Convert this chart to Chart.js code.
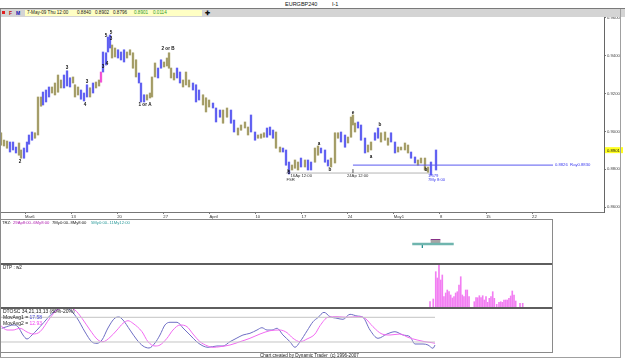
<!DOCTYPE html>
<html><head><meta charset="utf-8">
<script src="https://cdn.jsdelivr.net/npm/chart.js"></script>
<style>
html,body{margin:0;padding:0;background:#fff;}
#wrap{position:relative;width:625px;height:359px;overflow:hidden;font-family:"Liberation Sans",Arial,sans-serif;color:#000;}
.abs{position:absolute;}
canvas{position:absolute;}
.t{position:absolute;white-space:pre;line-height:1;color:#111;}
</style></head><body>
<div id="wrap">
  <canvas id="cMain" width="625" height="203" style="left:0;top:17px;width:625px;height:203px"></canvas>
  <canvas id="cTrz" width="553" height="43" style="left:0;top:220px;width:553px;height:43px"></canvas>
  <canvas id="cDtp" width="553" height="43" style="left:0;top:264px;width:553px;height:43px"></canvas>
  <canvas id="cOsc" width="553" height="44" style="left:0;top:308px;width:553px;height:44px"></canvas>

  <!-- header -->
  <div class="t" style="left:285px;top:2px;font-size:5.5px;color:#111">EURGBP240</div>
  <div class="t" style="left:332px;top:2px;font-size:5.5px;color:#111">I-1</div>
  <div class="abs" style="left:0;top:8px;width:625px;height:1px;background:#7a7a7a"></div>
  <div class="abs" style="left:0;top:9px;width:625px;height:8px;background:#d4d4d4"></div>
  <div class="abs" style="left:2px;top:11px;width:3px;height:3px;background:#e02020"></div>
  <div class="t" style="left:9px;top:10.5px;font-size:5px;font-weight:bold;color:#c01010">F</div>
  <div class="t" style="left:16px;top:10.5px;font-size:5px;font-weight:bold;color:#1010b0">M</div>
  <div class="abs" style="left:25px;top:10px;width:177px;height:6px;background:#ffffc4"></div>
  <div class="t" style="left:27px;top:10.8px;font-size:4.6px;color:#202020">7-May-09 Thu 12:00</div>
  <div class="t" style="left:77px;top:10.8px;font-size:4.6px;color:#202020">0.8840</div>
  <div class="t" style="left:95px;top:10.8px;font-size:4.6px;color:#202020">0.8902</div>
  <div class="t" style="left:113px;top:10.8px;font-size:4.6px;color:#202020">0.8796</div>
  <div class="t" style="left:134px;top:10.8px;font-size:4.6px;color:#2f9a2f">0.8901</div>
  <div class="t" style="left:153px;top:10.8px;font-size:4.6px;color:#2f9a2f">0.0114</div>
  <div class="t" style="left:205px;top:9.5px;font-size:6px;font-weight:bold">✚</div>

  <!-- panel frames -->
  <div class="abs" style="left:0;top:219px;width:553px;height:1px;background:#8a8a8a"></div>
  <div class="abs" style="left:0;top:263px;width:553px;height:2px;background:#5e5e5e"></div>
  <div class="abs" style="left:0;top:307px;width:553px;height:2px;background:#5e5e5e"></div>
  <div class="abs" style="left:0;top:352px;width:553px;height:1px;background:#8a8a8a"></div>
  <div class="abs" style="left:552px;top:219px;width:1px;height:134px;background:#8a8a8a"></div>
  <div class="abs" style="left:0;top:9px;width:1px;height:349px;background:#8a8a8a"></div>
  <div class="abs" style="left:620px;top:9px;width:1px;height:349px;background:#a0a0a0"></div>
  <div class="abs" style="left:0;top:357px;width:621px;height:1px;background:#a0a0a0"></div>

  <!-- panel texts -->
  <div class="t" style="left:2px;top:221px;font-size:4.2px;color:#202020">TRZ:</div>
  <div class="t" style="left:13px;top:221px;font-size:4.2px;color:#b020b0">29Ap8:00..6My8:00</div>
  <div class="t" style="left:52px;top:221px;font-size:4.2px;color:#202020">7My0:00..8My8:00</div>
  <div class="t" style="left:91px;top:221px;font-size:4.2px;color:#2a9a9a">5My0:00..11My12:00</div>
  <div class="t" style="left:3px;top:265.5px;font-size:4.6px;color:#202020">DTP : w2</div>
  <div class="t" style="left:3px;top:309px;font-size:5px;color:#202020">DTOSC 34,21,13,13 (80%-20%)</div>
  <div class="t" style="left:3px;top:315px;font-size:5px;color:#202020">MovAvg1 = <span style="color:#4a4ad0">17.58</span></div>
  <div class="t" style="left:3px;top:321px;font-size:5px;color:#202020">MovAvg2 = <span style="color:#f040f0">12.93</span></div>
  <div class="t" style="left:260px;top:353.5px;font-size:4.6px;color:#202020">Chart created by Dynamic Trader  (c) 1996-2007</div>
</div>
<script>
// ---------- DATA ----------
// time axis: trading days counted from Fri 6-Mar-2009 00:00
const weekTickDays = [0,5,10,15,20,25,30,35,40,45,50,55];
const weekTickLabels = ['Mar6','13','20','27','April','10','17','24','May1','8','15','22'];
const priceTicks = [0.86,0.88,0.90,0.92,0.94,0.96];
const lastPrice = 0.8901;

const barTime = [-2.60,-2.28,-1.95,-1.63,-1.30,-0.98,-0.65,-0.43,-0.11,0.22,
 0.43,0.76,1.08,1.41,1.74,1.95,2.28,2.60,2.93,3.25,
 3.58,3.90,4.23,4.56,4.88,5.21,5.42,5.75,6.07,6.40,
 6.72,7.05,7.38,7.70,8.03,8.24,8.46,8.79,9.00,9.22,
 9.44,9.76,10.09,10.41,10.74,11.06,11.39,11.71,12.04,12.36,
 12.58,12.91,13.23,13.56,13.77,14.10,14.43,14.75,15.08,15.40,
 15.62,15.84,16.16,16.49,16.81,17.14,17.46,17.79,18.22,18.55,
 18.87,19.31,19.63,19.96,20.39,20.72,21.15,21.48,21.91,22.34,
 22.67,23.10,23.43,23.86,24.19,24.51,24.95,25.27,25.60,25.92,
 26.25,26.57,26.90,27.22,27.66,27.98,28.31,28.63,28.96,29.28,
 29.61,29.93,30.37,30.69,31.02,31.45,31.78,32.10,32.54,32.86,
 33.19,33.62,33.95,34.27,34.71,35.03,35.36,35.57,35.79,36.12,
 36.44,36.88,37.20,37.53,37.96,38.29,38.61,39.05,39.37,39.70,
 40.13,40.46,40.78,41.21,41.54,41.87,42.30,42.62,42.95,43.38,
 43.71,44.03,44.58];
const barHigh = [.8992,.8954,.8949,.8944,.8944,.8917,.8939,.8902,.8912,.8944,
 .8981,.8997,.8992,.9182,.9182,.9208,.9219,.9235,.9235,.9256,
 .9298,.9272,.9298,.9320,.9283,.9288,.9246,.9235,.9219,.9203,
 .9246,.9230,.9256,.9261,.9272,.9314,.9420,.9415,.9499,.9510,
 .9457,.9441,.9431,.9420,.9431,.9420,.9431,.9415,.9378,.9309,
 .9256,.9193,.9193,.9203,.9288,.9362,.9335,.9378,.9367,.9388,
 .9415,.9335,.9309,.9335,.9314,.9272,.9314,.9272,.9256,.9246,
 .9219,.9193,.9177,.9166,.9150,.9124,.9113,.9113,.9124,.9113,
 .9060,.9018,.9034,.9050,.9023,.9087,.8997,.8981,.8986,.8992,
 .9018,.9023,.9007,.8997,.8917,.8912,.8902,.8838,.8822,.8849,
 .8838,.8859,.8849,.8849,.8838,.8912,.8923,.8912,.8902,.8849,
 .8859,.8992,.8992,.8997,.8981,.8970,.9076,.9087,.9044,.9050,
 .9034,.8965,.8928,.8944,.8992,.9018,.8992,.8997,.8965,.8992,
 .8944,.8917,.8917,.8939,.8928,.8891,.8865,.8849,.8859,.8859,
 .8812,.8838,.8902];
const barLow = [.8928,.8923,.8912,.8891,.8902,.8886,.8875,.8859,.8859,.8891,
 .8933,.8954,.8965,.8981,.9134,.9140,.9156,.9182,.9203,.9193,
 .9208,.9230,.9230,.9240,.9235,.9256,.9182,.9193,.9171,.9161,
 .9182,.9182,.9203,.9230,.9240,.9261,.9314,.9351,.9420,.9441,
 .9388,.9394,.9388,.9378,.9367,.9388,.9404,.9335,.9288,.9256,
 .9156,.9156,.9166,.9177,.9182,.9288,.9283,.9335,.9341,.9346,
 .9335,.9283,.9272,.9283,.9256,.9235,.9246,.9235,.9219,.9156,
 .9166,.9140,.9103,.9129,.9124,.9050,.9076,.9044,.9076,.9044,
 .8997,.8981,.9007,.9018,.8981,.8997,.8954,.8965,.8965,.8970,
 .8970,.8981,.8965,.8912,.8891,.8891,.8822,.8775,.8796,.8806,
 .8796,.8812,.8812,.8796,.8796,.8838,.8875,.8886,.8838,.8817,
 .8812,.8833,.8965,.8944,.8917,.8939,.8970,.9034,.8997,.9018,
 .8954,.8886,.8891,.8902,.8954,.8965,.8944,.8954,.8928,.8944,
 .8886,.8891,.8902,.8902,.8886,.8859,.8833,.8822,.8833,.8796,
 .8785,.8769,.8796];
// trend colour code per bar: b = up-trend (blue), o = down-trend (olive), m = marker (magenta)
const barTrend = ("ooobbboobb"+"bbooobbboo"+"oobbbooobb"+"boboombbbb"+"oobbboooob"+
 "bboooobboo"+"ooobbooobb"+"booobbboob"+"boooobbooo"+"bbboobbboo"+
 "obobboobbb"+"ooobboooob"+"bboobbooob"+"boooobbooo"+"obb").split('');

// wave count labels
const waveText  = ['2','3','4','3','3','4','5','5','3','1 or A','2 or B','5','a','b','e','a','b','b'];
const waveDay   = [-0.54,4.56,6.51,6.72,8.46,8.89,8.79,9.33,9.33,13.02,15.51,28.63,31.89,33.08,35.57,37.53,38.50,43.49];
const wavePrice = [0.8838,0.9335,0.9140,0.9261,0.9341,0.9357,0.9505,0.9523,0.9489,0.9140,0.9436,0.8780,0.8933,0.8796,0.9097,0.8865,0.9034,0.8796];

// small notes next to lines
const noteText  = ['FSR','16Ap 12:00','24Ap 12:00','1.579','7My 8:00','0.8826  Ray0.8830'];
const noteDay   = [28.35,28.80,34.92,43.70,43.70,57.48];
const notePrice = [0.8746,0.8764,0.8765,0.8767,0.8745,0.8822];
const noteKind  = ['g','g','g','b','b','b'];

// horizontal references
const lowLineDays = [28.30, 44.00];  const lowLinePrice = 0.8780;
const markDays = [28.52, 35.57];     const markTop = 0.8801;
const rayDays = [35.57, 57.27];      const rayPrice = 0.8822;

// TRZ time zones (start day, end day, row)
const trzStart = [42.0, 44.0, 44.0];
const trzEnd   = [46.5, 45.05, 45.05];
const trzRow   = [19, 21.5, 23.3];
const trzMarkDay = 43.1; const trzMarkRow = [18, 15];

// DTP histogram
const dtpTime = [43.93,44.28,44.55,44.72,44.90,45.09,45.26,45.44,45.63,45.80,
 45.99,46.17,46.35,46.53,46.71,46.89,47.07,47.26,47.43,47.61,
 47.80,47.97,48.16,48.73,48.92,49.10,49.28,49.46,49.64,49.82,
 50.00,50.18,50.36,50.54,50.73,50.90,51.16,51.41,51.60,51.77,
 51.95,52.14,52.31,52.49,52.68,52.85,53.04,53.22,53.69,53.98];
const dtpValue = [5.3,8,35.3,29,42,27,32,10.3,14,17,
 15.3,12,9,10.3,14,15.3,22,30.3,12,10.3,
 17,17,10.3,5.3,9.3,9.3,11.3,9.3,11.3,7,
 10.3,4.7,8.7,10.3,15.3,8.7,2.7,4.7,5.3,4.7,
 7,7,7,8.7,11,16,12,6,3.7,3.7];

// DTOSC oscillator
const oscFastT = [-2.53,-1.98,-1.30,-0.76,-0.22,0.22,0.76,1.30,1.63,3.25,
 4.01,4.66,5.64,6.51,7.27,7.81,8.35,9.00,9.76,10.20,
 10.63,11.39,12.15,12.80,13.45,14.10,14.64,15.18,15.73,16.49,
 17.14,17.90,18.66,19.31,19.85,20.82,21.48,22.23,22.99,23.64,
 24.40,25.16,25.70,26.25,26.79,27.33,27.98,28.74,29.28,29.83,
 30.59,31.24,31.78,32.43,33.08,33.84,34.49,35.25,36.01,36.66,
 37.42,38.29,39.26,40.13,41.00,41.76,42.30,43.17,43.71,44.25,44.47];
const oscFastV = [53.3,57.2,61.3,57.2,37.0,27.3,37.0,49.1,57.2,95,
 102,101,78.3,44.3,20,16.8,24.9,54.0,78.3,80.7,
 73.4,49.1,24.9,10.3,5.4,17.6,37.0,61.3,67.9,67.9,
 54.0,37.0,20.0,10.3,7.1,10.3,10.3,20.7,29.7,37.0,
 41.1,49.1,54.7,49.1,49.1,53.3,37.0,20.7,7.1,20.7,
 47,69.3,79.5,92.1,81.5,77.6,75.1,87.3,83.2,80.0,
 49.1,29.0,39.4,45.0,37.0,32.9,15.1,15.1,12.7,4.7,12.7];
const oscSlowT = [-2.71,-1.95,-1.30,-0.54,0.22,0.87,1.63,2.71,3.47,4.12,
 4.88,5.42,6.18,7.05,7.92,8.46,9.22,9.98,10.63,11.17,
 11.71,12.69,13.34,14.10,14.64,15.40,16.05,16.81,17.57,18.22,
 18.98,19.74,20.39,21.15,22.23,23.32,24.40,25.49,26.57,27.66,
 28.42,29.07,29.83,30.59,31.45,32.00,32.86,33.84,34.92,36.12,
 36.88,37.74,38.72,39.59,40.67,41.54,42.52,43.38,44.14,44.47];
const oscSlowV = [61.3,49.1,49.1,53.3,44.3,39.4,45.0,78.3,97.7,102,
 102,97.7,77.6,49.1,24.9,20.7,31.4,49.1,65.4,71.7,
 65.4,45.0,20.7,10.3,12.7,29.0,49.1,61.3,57.2,39.4,
 20.7,11.0,7.1,8.6,12.7,20.7,29.0,39.4,47.4,49.1,
 42.6,29.0,20.7,27.3,39.4,59.6,80.0,81.5,80.0,81.5,
 77.6,57.2,39.4,37.0,39.4,31.4,24.9,20.7,18.3,16.8];
const oscBands = [80, 20];

// ---------- CHARTS ----------
Chart.defaults.font.family = '"Liberation Sans", Arial, sans-serif';
const FONT = '"Liberation Sans", Arial, sans-serif';
const X_MIN = -2.7115, X_MAX_MAIN = 62.798, X_MAX_PANEL = 57.267;
const trendDark  = {b:'#4e4ef0', o:'#9a9258', m:'#f03cd0'};
const trendLight = {b:'#c2c2f8', o:'#dcd8bc', m:'#f8c0ee'};
const base = {responsive:false, animation:false, devicePixelRatio:1, events:[],
  plugins:{legend:{display:false}, tooltip:{enabled:false}}, layout:{padding:0}};

const bars = barTime.map((t,i)=>({x:t, y:[barLow[i], barHigh[i]]}));
const seg = (d, p) => [{x:d[0], y:p}, {x:d[1], y:p}];
const lineDs = (data, color, w, extra) => Object.assign({type:'line', data, borderColor:color, borderWidth:w,
  pointRadius:0, fill:false, tension:0, borderCapStyle:'butt'}, extra||{});

const notesPlugin = {
  id:'notes',
  afterDatasetsDraw(chart){
    const {ctx} = chart; const x = chart.scales.x, y = chart.scales.y;
    ctx.save();
    ctx.font = 'bold 4.6px ' + FONT; ctx.fillStyle = '#111';
    ctx.textAlign = 'center'; ctx.textBaseline = 'middle';
    waveText.forEach((s,i)=>ctx.fillText(s, x.getPixelForValue(waveDay[i]), y.getPixelForValue(wavePrice[i])));
    ctx.font = '4.2px ' + FONT; ctx.textAlign = 'left';
    noteText.forEach((s,i)=>{
      ctx.fillStyle = noteKind[i]==='b' ? '#3c3cf0' : '#333';
      ctx.fillText(s, x.getPixelForValue(noteDay[i]), y.getPixelForValue(notePrice[i]));
    });
    ctx.restore();
  },
  afterDraw(chart){
    const {ctx, chartArea} = chart; const y = chart.scales.y;
    const py = y.getPixelForValue(lastPrice);
    ctx.save();
    ctx.fillStyle = '#ffff20'; ctx.fillRect(chartArea.right+1, py-3, 18, 6);
    ctx.fillStyle = '#111'; ctx.font = '4.2px ' + FONT; ctx.textBaseline='middle'; ctx.textAlign='left';
    ctx.fillText(lastPrice.toFixed(4), chartArea.right+3, py+0.3);
    ctx.restore();
  }
};

new Chart(document.getElementById('cMain'), {
  type:'bar',
  data:{datasets:[
    {type:'bar', data:bars, backgroundColor:barTrend.map(c=>trendLight[c]), barThickness:2.2, grouped:false, borderWidth:0, order:3},
    {type:'bar', data:bars, backgroundColor:barTrend.map(c=>trendDark[c]), barThickness:1, grouped:false, borderWidth:0, order:2},
    lineDs(seg(lowLineDays, lowLinePrice), '#b4b4b4', 1, {order:4}),
    lineDs([{x:markDays[0],y:lowLinePrice},{x:markDays[0],y:markTop}], '#555', 1, {order:1}),
    lineDs([{x:markDays[1],y:lowLinePrice},{x:markDays[1],y:markTop}], '#555', 1, {order:1}),
    lineDs(seg(rayDays, rayPrice), '#5a5af0', 1, {order:1})
  ]},
  options:Object.assign({}, base, {
    scales:{
      x:{type:'linear', min:X_MIN, max:X_MAX_MAIN, offset:false,
        afterBuildTicks:s=>{ s.ticks = weekTickDays.map(v=>({value:v})); },
        afterFit:s=>{ s.height = 8; s.paddingLeft = 0; s.paddingRight = 0; },
        ticks:{autoSkip:false, maxRotation:0, minRotation:0, align:'start', padding:0, color:'#333',
          font:{size:4.2}, callback:(v,i)=>weekTickLabels[i]},
        grid:{drawOnChartArea:false, drawTicks:true, tickLength:2, color:'#777', offset:false},
        border:{display:true, color:'#777', width:1}},
      y:{type:'linear', position:'right', min:0.8574, max:0.9605,
        afterBuildTicks:s=>{ s.ticks = priceTicks.map(v=>({value:v})); },
        afterFit:s=>{ s.width = 21; s.paddingTop = 0; s.paddingBottom = 0; },
        ticks:{padding:1, color:'#444', font:{size:4.2}, callback:v=>Number(v).toFixed(4)},
        grid:{drawOnChartArea:false, tickLength:2, color:'#777'},
        border:{display:true, color:'#666', width:1}}
    }
  }),
  plugins:[notesPlugin]
});

const hiddenX = max => ({type:'linear', display:false, min:X_MIN, max:max, offset:false});

new Chart(document.getElementById('cTrz'), {
  type:'line',
  data:{datasets:[
    lineDs(seg([trzStart[0],trzEnd[0]], trzRow[0]), '#6fb5ae', 2.5),
    lineDs(seg([trzStart[1],trzEnd[1]], trzRow[1]), '#a6a6a6', 3),
    lineDs(seg([trzStart[2],trzEnd[2]], trzRow[2]), '#7a1a7a', 1.2),
    lineDs([{x:trzMarkDay,y:trzMarkRow[0]},{x:trzMarkDay,y:trzMarkRow[1]}], '#2a9090', 1)
  ]},
  options:Object.assign({}, base, {scales:{x:hiddenX(X_MAX_PANEL), y:{display:false, min:0, max:43}}})
});

new Chart(document.getElementById('cDtp'), {
  type:'bar',
  data:{datasets:[{data:dtpTime.map((t,i)=>({x:t, y:dtpValue[i]})), backgroundColor:'#f27ef2', barThickness:1, borderWidth:0}]},
  options:Object.assign({}, base, {scales:{x:hiddenX(X_MAX_PANEL), y:{display:false, min:0, max:43}}})
});

new Chart(document.getElementById('cOsc'), {
  type:'line',
  data:{datasets:[
    lineDs(seg([-2.71, 44.47], oscBands[0]), '#c4c4c4', 1),
    lineDs(seg([-2.71, 44.47], oscBands[1]), '#c4c4c4', 1),
    lineDs(oscSlowT.map((t,i)=>({x:t,y:oscSlowV[i]})), '#f26af2', 1, {cubicInterpolationMode:'monotone'}),
    lineDs(oscFastT.map((t,i)=>({x:t,y:oscFastV[i]})), '#6e6ec4', 1, {cubicInterpolationMode:'monotone'})
  ]},
  options:Object.assign({}, base, {scales:{x:hiddenX(X_MAX_PANEL), y:{display:false, min:-4.3, max:102.6}}})
});
</script>
</body></html>
